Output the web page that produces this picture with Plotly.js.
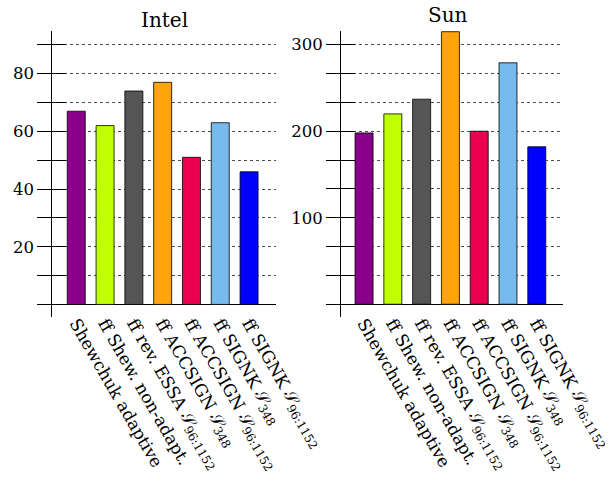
<!DOCTYPE html>
<html>
<head>
<meta charset="utf-8">
<script src="https://cdn.plot.ly/plotly-3.0.1.min.js"></script>
<style>html,body{margin:0;padding:0;background:#fff;}#chart{width:615px;height:489px;}</style>
</head>
<body>
<div id="chart"></div>
<script>
var categories = [
  'Shewchuk adaptive',
  'ff Shew. non-adapt.',
  'ff rev. ESSA 𝒮<sub>96:1152</sub>',
  'ff ACCSIGN 𝒮<sub>348</sub>',
  'ff ACCSIGN 𝒮<sub>96:1152</sub>',
  'ff SIGNK 𝒮<sub>348</sub>',
  'ff SIGNK 𝒮<sub>96:1152</sub>'
];
var barColors = ['#8B008B', '#BFFF00', '#555555', '#FFA50A', '#EB0050', '#77BBEE', '#0000FF'];
var intelValues = [67, 62, 74, 77, 51, 63, 46];
var sunValues = [198, 220, 237, 315, 200, 279, 182];
var intelTickVals = [0, 10, 20, 30, 40, 50, 60, 70, 80, 90];
var intelTickText = ['', '', '20', '', '40', '', '60', '', '80', ''];
var sunTickVals = [0, 100/3, 200/3, 100, 400/3, 500/3, 200, 700/3, 800/3, 300];
var sunTickText = ['', '', '', '100', '', '', '200', '', '', '300'];
var titles = ['Intel', 'Sun'];

var FONT = 'DejaVu Serif';

function barTrace(vals, xa, ya) {
  return {
    type: 'bar', x: categories, y: vals, xaxis: xa, yaxis: ya,
    marker: {color: barColors, line: {color: 'rgba(0,0,0,0.8)', width: 1}},
    hoverinfo: 'skip', showlegend: false
  };
}
function dummy(xa, ya) {
  return {type: 'scatter', mode: 'markers', x: [categories[0]], y: [null], xaxis: xa, yaxis: ya,
          hoverinfo: 'skip', showlegend: false};
}

var data = [
  barTrace(intelValues, 'x', 'y'),
  barTrace(sunValues, 'x2', 'y2'),
  dummy('x', 'y3'),
  dummy('x2', 'y4')
];

var yDom = [0.3511, 0.9366];
function xAxis(dom, rng) {
  return {
    domain: dom, type: 'category', range: rng, anchor: 'free', position: yDom[0],
    showline: false, showgrid: false, zeroline: false, ticks: '',
    tickangle: 60, ticklabelstandoff: -8,
    tickfont: {family: FONT, size: 17, color: '#000'},
    categoryorder: 'array', categoryarray: categories
  };
}
function yAxis(anchor, rng, tv, tt) {
  return {
    domain: yDom, anchor: anchor, range: rng,
    tickmode: 'array', tickvals: tv, ticktext: tt,
    ticks: 'outside', ticklen: 14, tickwidth: 1, tickcolor: '#000',
    showline: true, linecolor: '#000', linewidth: 1,
    showgrid: true, gridcolor: '#222', gridwidth: 0.8, griddash: '3px,3px',
    zeroline: true, zerolinecolor: '#000', zerolinewidth: 1,
    tickfont: {family: FONT, size: 16.5, color: '#000'}
  };
}
function yOverlay(anchor, over, rng, tv) {
  return {
    domain: yDom, anchor: anchor, overlaying: over, side: 'left', range: rng,
    tickmode: 'array', tickvals: tv, showticklabels: false,
    ticks: 'inside', ticklen: 14, tickwidth: 1, tickcolor: '#000',
    showline: false, showgrid: false, zeroline: false
  };
}

var intelRange = [-4.47, 94.8];
var sunRange = [-15.1, 315.8];

var layout = {
  width: 615, height: 489,
  margin: {l: 0, r: 0, t: 0, b: 0},
  paper_bgcolor: '#fff', plot_bgcolor: 'rgba(0,0,0,0)',
  font: {family: FONT, color: '#000'},
  bargap: 0.375,
  xaxis: xAxis([0.0850, 0.4483], [-0.833, 6.925]),
  xaxis2: xAxis([0.5545, 0.9159], [-0.8, 6.92]),
  yaxis: yAxis('x', intelRange, intelTickVals, intelTickText),
  yaxis2: yAxis('x2', sunRange, sunTickVals, sunTickText),
  yaxis3: yOverlay('x', 'y', intelRange, intelTickVals),
  yaxis4: yOverlay('x2', 'y2', sunRange, sunTickVals),
  annotations: [
    {text: titles[0], xref: 'paper', yref: 'paper', x: 0.2667, y: 0.960, xanchor: 'center', yanchor: 'middle',
     showarrow: false, font: {family: FONT, size: 20, color: '#000'}},
    {text: titles[1], xref: 'paper', yref: 'paper', x: 0.7285, y: 0.969, xanchor: 'center', yanchor: 'middle',
     showarrow: false, font: {family: FONT, size: 20, color: '#000'}}
  ]
};

Plotly.newPlot('chart', data, layout, {staticPlot: true, displayModeBar: false});
</script>
</body>
</html>
